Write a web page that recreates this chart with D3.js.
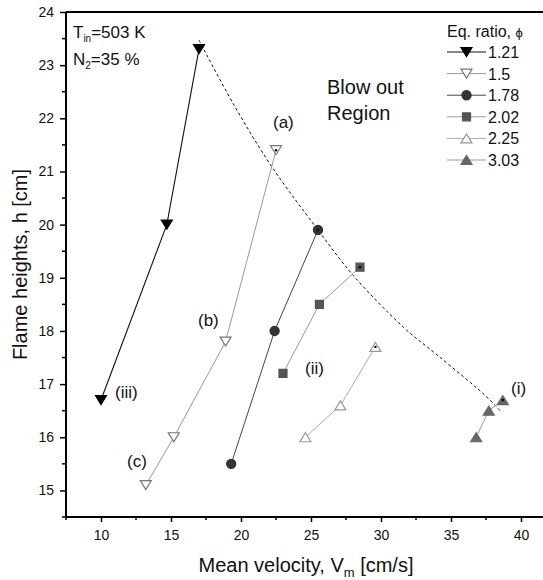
<!DOCTYPE html>
<html><head><meta charset="utf-8">
<script src="https://cdn.jsdelivr.net/npm/d3@7"></script>
<style>body{margin:0;background:#fff}svg{display:block;font-family:"Liberation Sans",Arial,sans-serif}</style>
</head><body><svg id="c" width="543" height="580"></svg>
<script>
// ---- data ----
const phiLabels = ["1.21", "1.5", "1.78", "2.02", "2.25", "3.03"];
const vel_121 = [10.0, 14.7, 17.0];   const h_121 = [16.7, 20.0, 23.3];
const vel_150 = [13.2, 15.2, 18.9, 22.5]; const h_150 = [15.1, 16.0, 17.8, 21.4];
const vel_178 = [19.3, 22.4, 25.5];   const h_178 = [15.5, 18.0, 19.9];
const vel_202 = [23.0, 25.6, 28.5];   const h_202 = [17.2, 18.5, 19.2];
const vel_225 = [24.6, 27.1, 29.6];   const h_225 = [16.0, 16.6, 17.7];
const vel_303 = [36.8, 37.7, 38.7];   const h_303 = [16.0, 16.5, 16.7];
// blow-out limit curve (dashed)
const limitVel = [17.0, 19.5, 22.2, 25.5, 28.0, 31.6, 34.0, 37.55, 38.5];
const limitH   = [23.47, 22.25, 21.09, 19.9, 19.05, 18.07, 17.55, 16.76, 16.5];
const xTicks = [10, 15, 20, 25, 30, 35, 40];
const yTicks = [15, 16, 17, 18, 19, 20, 21, 22, 23, 24];

const svg = d3.select("#c");
const L = 66, R = 543.4, T = 12, B = 517;
const x = d3.scaleLinear().domain([7.5, 41.6]).range([L, R]);
const y = d3.scaleLinear().domain([14.5, 24]).range([B, T]);

const series = [
  {v: vel_121, h: h_121, line: "#111", sym: "tdown", fill: "#000", stroke: "#000", lw: 1.1},
  {v: vel_150, h: h_150, line: "#999", sym: "tdown", fill: "#fff", stroke: "#777", lw: 1},
  {v: vel_178, h: h_178, line: "#444", sym: "circle", fill: "#333", stroke: "#333", lw: 1},
  {v: vel_202, h: h_202, line: "#999", sym: "square", fill: "#555", stroke: "#555", lw: 1},
  {v: vel_225, h: h_225, line: "#aaa", sym: "tup", fill: "#fff", stroke: "#999", lw: 1},
  {v: vel_303, h: h_303, line: "#999", sym: "tup", fill: "#666", stroke: "#666", lw: 1}
];

function symPath(s, k) {
  k = k || 1;
  if (s === "tdown") { const w = 11*k, hh = 9*k; return `M${-w/2},${-hh/2}L${w/2},${-hh/2}L0,${hh/2}Z`; }
  if (s === "tup") { const w = 11*k, hh = 9*k; return `M${-w/2},${hh/2}L${w/2},${hh/2}L0,${-hh/2}Z`; }
  if (s === "square") { const a = 8*k; return `M${-a/2},${-a/2}h${a}v${a}h${-a}Z`; }
  const r = 4.6*k; return `M${r},0A${r},${r} 0 1 1 ${-r},0A${r},${r} 0 1 1 ${r},0Z`;
}

// axes
const xAxis = d3.axisBottom(x).tickValues(xTicks).tickSize(5).tickPadding(8);
const gx = svg.append("g").attr("transform", `translate(0,${B})`).call(xAxis);
gx.select(".domain").attr("stroke-width", 2).attr("d", `M${L},0H${R}`);
gx.selectAll(".tick line").attr("stroke-width", 1.5);
gx.selectAll("text").attr("font-size", 14).attr("fill", "#111").attr("font-family", "Liberation Sans, Arial, sans-serif");
const xMinor = d3.range(7.5, 41.6, 2.5).filter(v => !xTicks.includes(v));
svg.append("g").selectAll("line").data(xMinor).join("line")
  .attr("x1", d => x(d)).attr("x2", d => x(d)).attr("y1", B).attr("y2", B + 3)
  .attr("stroke", "#000").attr("stroke-width", 1.5);

const yAxis = d3.axisLeft(y).tickValues(yTicks).tickSize(6).tickPadding(6);
const gy = svg.append("g").attr("transform", `translate(${L},0)`).call(yAxis);
gy.select(".domain").attr("stroke-width", 2).attr("d", `M0,${B}V${T}`);
gy.selectAll(".tick line").attr("stroke-width", 1.5);
gy.selectAll("text").attr("font-size", 14).attr("fill", "#111").attr("font-family", "Liberation Sans, Arial, sans-serif");
const yMinor = d3.range(14.5, 24, 0.5).filter(v => !yTicks.includes(v));
svg.append("g").selectAll("line").data(yMinor).join("line")
  .attr("y1", d => y(d)).attr("y2", d => y(d)).attr("x1", L).attr("x2", L - 4)
  .attr("stroke", "#000").attr("stroke-width", 1.5);
// top frame
svg.append("line").attr("x1", L).attr("x2", R).attr("y1", y(24)).attr("y2", y(24))
  .attr("stroke", "#000").attr("stroke-width", 2);

// axis titles
svg.append("text").attr("x", 306).attr("y", 572).attr("text-anchor", "middle").attr("font-size", 20).attr("fill", "#111")
  .html('Mean velocity, V<tspan font-size="13" dy="5">m</tspan><tspan dy="-5"> [cm/s]</tspan>');
svg.append("text").attr("transform", `translate(27,${(T + B) / 2}) rotate(-90)`).attr("text-anchor", "middle")
  .attr("font-size", 20).attr("fill", "#111").text("Flame heights, h [cm]");

// dashed limit curve
const lim = limitVel.map((v, i) => [v, limitH[i]]);
svg.append("path").attr("d", d3.line().x(d => x(d[0])).y(d => y(d[1])).curve(d3.curveCatmullRom)(lim))
  .attr("fill", "none").attr("stroke", "#111").attr("stroke-width", 1).attr("stroke-dasharray", "3,2.5");

// series
series.forEach(s => {
  const pts = s.v.map((v, i) => [v, s.h[i]]);
  svg.append("path").attr("d", d3.line().x(d => x(d[0])).y(d => y(d[1]))(pts))
    .attr("fill", "none").attr("stroke", s.line).attr("stroke-width", s.lw);
  svg.append("g").selectAll("path").data(pts).join("path")
    .attr("transform", d => `translate(${x(d[0])},${y(d[1])})`)
    .attr("d", symPath(s.sym)).attr("fill", s.fill).attr("stroke", s.stroke).attr("stroke-width", 1.2);
});
// small dots at blow-out points (top points of series 2-6)
series.slice(1).forEach(s => {
  const i = s.v.length - 1;
  svg.append("circle").attr("cx", x(s.v[i])).attr("cy", y(s.h[i])).attr("r", 1.2).attr("fill", "#000");
});

// annotations
const ann = svg.append("g").attr("font-size", 17).attr("fill", "#111");
ann.append("text").attr("x", 73).attr("y", 38).attr("font-size", 17)
  .html('T<tspan font-size="10" dy="4">in</tspan><tspan dy="-4">=503 K</tspan>');
ann.append("text").attr("x", 73).attr("y", 65).attr("font-size", 17)
  .html('N<tspan font-size="10" dy="4">2</tspan><tspan dy="-4">=35 %</tspan>');
ann.append("text").attr("x", 327).attr("y", 94).attr("font-size", 20).text("Blow out");
ann.append("text").attr("x", 327).attr("y", 120).attr("font-size", 20).text("Region");
const labels = [["(a)", 273, 128], ["(b)", 198, 326], ["(c)", 127, 467], ["(iii)", 115, 398], ["(ii)", 305, 374], ["(i)", 511, 394]];
labels.forEach(l => ann.append("text").attr("x", l[1]).attr("y", l[2]).text(l[0]));

// legend
const lg = svg.append("g").attr("font-size", 16).attr("fill", "#111");
lg.append("text").attr("x", 447).attr("y", 37).html('Eq. ratio,  <tspan font-size="13">ϕ</tspan>');
series.forEach((s, i) => {
  const cy = 52 + i * 21.6;
  lg.append("line").attr("x1", 447).attr("x2", 486).attr("y1", cy).attr("y2", cy).attr("stroke", s.line).attr("stroke-width", s.lw);
  lg.append("path").attr("transform", `translate(466.5,${cy})`).attr("d", symPath(s.sym))
    .attr("fill", s.fill).attr("stroke", s.stroke).attr("stroke-width", 1.2);
  lg.append("text").attr("x", 488).attr("y", cy + 6).text(phiLabels[i]);
});
</script></body></html>
